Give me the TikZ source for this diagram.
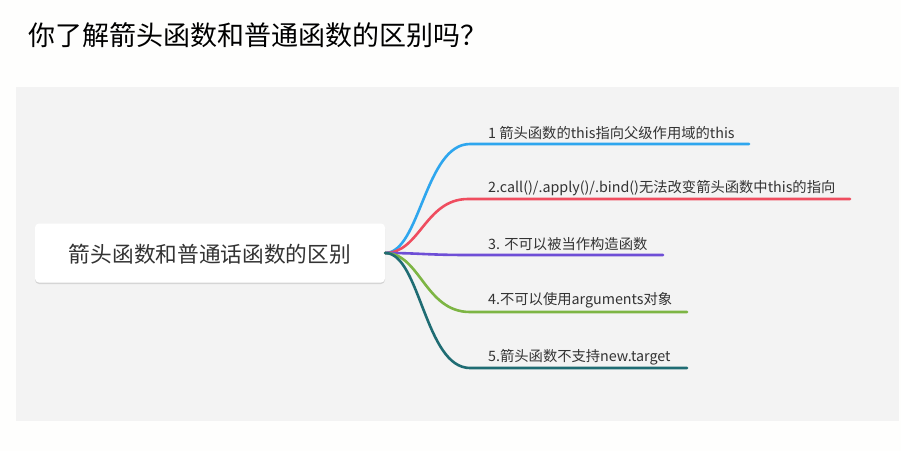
\documentclass[tikz,border=0pt]{standalone}
\usepackage{fontspec}
\setmainfont{Noto Sans CJK SC}
\usetikzlibrary{shadows}
\definecolor{bgwhite}{HTML}{FEFEFD}
\definecolor{panel}{HTML}{F3F3F3}
\definecolor{txt}{HTML}{333333}
\definecolor{cblue}{HTML}{2EA6EE}
\definecolor{cred}{HTML}{EF4D5F}
\definecolor{cpurple}{HTML}{6E4ED6}
\definecolor{cgreen}{HTML}{7DB544}
\definecolor{cteal}{HTML}{1F6C73}
\tikzset{
  branch/.style={line width=2.6pt, line cap=round},
  leaf/.style={anchor=west, inner sep=0pt, text=txt, font=\fontsize{14.3}{16}\selectfont},
  rootbox/.style={fill=white, rounded corners=4pt, minimum width=350pt, minimum height=59pt, inner sep=0pt,
    drop shadow={shadow xshift=0pt, shadow yshift=-1.5pt, opacity=0.12, fill=black}}
}
\begin{document}
\begin{tikzpicture}[x=1pt,y=-1pt]
\useasboundingbox (0,0) rectangle (901,451);
\fill[bgwhite] (0,0) rectangle (901,451);
\fill[panel] (16,87) rectangle (899,421);
\node[anchor=west, inner sep=0pt, font=\fontsize{27}{30}\selectfont] (title) at (28,35) {你了解箭头函数和普通函数的区别吗？};
\node[rootbox] (root) at (210,253) {};
\node[text=txt, inner sep=0pt, font=\fontsize{21.7}{24}\selectfont] (roottext) at (210,254) {箭头函数和普通话函数的区别};
\coordinate (s1) at (470,144); \coordinate (e1) at (749,144);
\coordinate (s2) at (468,199); \coordinate (e2) at (850,199);
\coordinate (s3) at (470,255); \coordinate (e3) at (663,255);
\coordinate (s4) at (470,312); \coordinate (e4) at (687,312);
\coordinate (s5) at (470,368); \coordinate (e5) at (687,368);
\draw[branch, cblue] (root.east) .. controls (420,253) and (425,144) .. (s1) -- (e1);
\draw[branch, cred] (root.east) .. controls (420,253) and (425,199) .. (s2) -- (e2);
\draw[branch, cpurple] (root.east) .. controls (420,253) and (425,255) .. (s3) -- (e3);
\draw[branch, cgreen] (root.east) .. controls (420,253) and (425,312) .. (s4) -- (e4);
\draw[branch, cteal] (root.east) .. controls (420,253) and (425,368) .. (s5) -- (e5);
\node[leaf] (t1) at (488,133) {1 箭头函数的this指向父级作用域的this};
\node[leaf] (t2) at (488,188) {2.call()/.apply()/.bind()无法改变箭头函数中this的指向};
\node[leaf] (t3) at (488,244) {3. 不可以被当作构造函数};
\node[leaf] (t4) at (488,300) {4.不可以使用arguments对象};
\node[leaf] (t5) at (488,357) {5.箭头函数不支持new.target};
\end{tikzpicture}
\end{document}
